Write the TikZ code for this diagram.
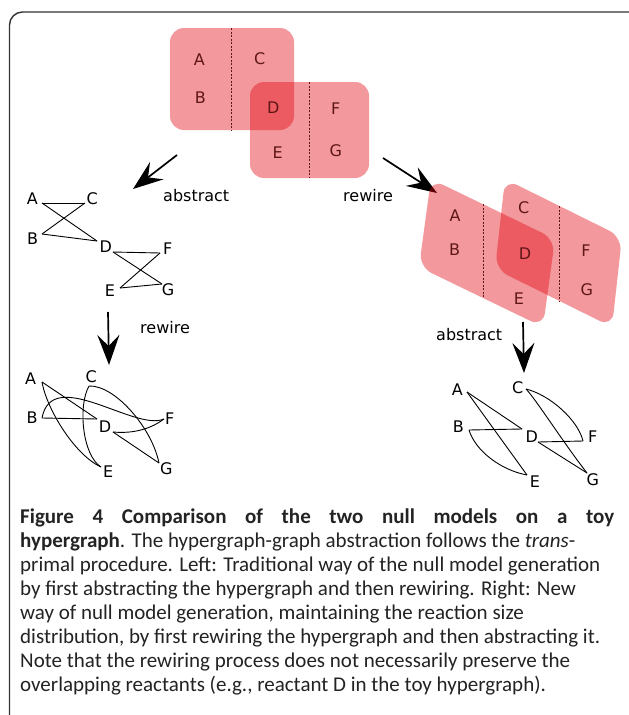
\documentclass[tikz,border=0pt]{standalone}
\usepackage{fontspec}
\setmainfont{DejaVu Sans}
\newfontfamily\capfont{Carlito}
\usetikzlibrary{arrows.meta}

\definecolor{hyper}{RGB}{226,0,10}
\definecolor{hyperink}{RGB}{95,22,22}
\definecolor{captext}{RGB}{35,35,35}

\begin{document}
\begin{tikzpicture}[x=1pt,y=-1pt,
  lbl/.style={font=\fontsize{16}{16}\selectfont, inner sep=0pt},
  hlbl/.style={lbl, text=hyperink},
  edge/.style={line width=0.9pt, black},
  hedge/.style={fill=hyper, fill opacity=0.4, draw=none, rounded corners=14pt},
  divider/.style={line width=0.8pt, hyperink, dash pattern=on 2pt off 1.5pt},
  bigarrow/.style={line width=1.7pt, -{Stealth[length=30pt,width=22pt,inset=11pt]}},
  steplabel/.style={font=\fontsize{16}{16}\selectfont, anchor=base west, inner sep=0pt},
  capline/.style={font=\capfont\fontsize{21}{24}\selectfont, text=captext, anchor=base west, inner sep=0pt}
]
\fill[white] (0,0) rectangle (629,715);
\useasboundingbox (0,0) rectangle (629,715);

% frame
\draw[line width=1.4pt, black!80, rounded corners=13pt] (9.5,720) -- (9.5,12) -- (629,12);

% ---------- hypergraph (top) ----------
\fill[hedge] (170,28) rectangle (294,130);
\fill[hedge] (250,82) rectangle (369,178);
\draw[divider] (231,28) -- (231,130);
\draw[divider] (309,82) -- (309,178);
\node[hlbl] (hA) at (199.3,59.3) {A};
\node[hlbl] (hB) at (200.3,97.7) {B};
\node[hlbl] (hC) at (259.7,58.7) {C};
\node[hlbl] (hD) at (273.3,107.3) {D};
\node[hlbl] (hE) at (277.7,152.3) {E};
\node[hlbl] (hF) at (335.7,108.7) {F};
\node[hlbl] (hG) at (335.7,151) {G};

% ---------- arrows and step labels ----------
\coordinate (ar1s) at (177,155);
\coordinate (ar1e) at (133,189);
\coordinate (ar2s) at (383,158);
\coordinate (ar2e) at (437,193);
\coordinate (ar3s) at (108,312);
\coordinate (ar3e) at (109,365);
\coordinate (ar4s) at (523,322);
\coordinate (ar4e) at (524,373);
\draw[bigarrow] (ar1s) -- (ar1e);
\draw[bigarrow] (ar2s) -- (ar2e);
\draw[bigarrow] (ar3s) -- (ar3e);
\draw[bigarrow] (ar4s) -- (ar4e);
\node[steplabel] (lab1) at (163,201) {abstract};
\node[steplabel] (lab2) at (343,201) {rewire};
\node[steplabel] (lab3) at (140,333) {rewire};
\node[steplabel] (lab4) at (436,340) {abstract};

% ---------- abstracted graph ----------
\node[lbl] (aA) at (32.3,198.3) {A};
\node[lbl] (aC) at (92.3,198.3) {C};
\node[lbl] (aB) at (32.7,238.3) {B};
\node[lbl] (aD) at (105.7,246.7) {D};
\node[lbl] (aF) at (167.7,248.3) {F};
\node[lbl] (aE) at (110,290.7) {E};
\node[lbl] (aG) at (168,290) {G};
\coordinate (pA) at (42,203);
\coordinate (pC) at (85,203);
\coordinate (pB) at (42,234);
\coordinate (pD) at (97,241);
\coordinate (pD2) at (113,252);
\coordinate (pF) at (160,253);
\coordinate (pE) at (120,288);
\coordinate (pG) at (162,284);
\draw[edge] (pA) -- (pC);
\draw[edge] (pA) -- (pD);
\draw[edge] (pC) -- (pB);
\draw[edge] (pB) -- (pD);
\draw[edge] (pD2) -- (pF);
\draw[edge] (pD2) -- (pG);
\draw[edge] (pF) -- (pE);
\draw[edge] (pE) -- (pG);

% ---------- abstracted then rewired ----------
\node[lbl] (bA) at (30.7,378.3) {A};
\node[lbl] (bC) at (91.3,376.7) {C};
\node[lbl] (bB) at (32,418) {B};
\node[lbl] (bD) at (105,426.3) {D};
\node[lbl] (bF) at (169.7,418.7) {F};
\node[lbl] (bE) at (108.3,471.3) {E};
\node[lbl] (bG) at (166.3,469) {G};
\coordinate (qA) at (42,382);
\coordinate (qC) at (89,386);
\coordinate (qB) at (42,418);
\coordinate (qD) at (97,419);
\coordinate (qD2) at (113,432);
\coordinate (qF) at (164,419);
\coordinate (qE) at (101,467);
\coordinate (qG) at (159,463);
\draw[edge] (qA) -- (qD);
\draw[edge] (qB) -- (qD);
\draw[edge] (qA) .. controls (47,410) and (75,455) .. (qE);
\draw[edge] (qB) .. controls (52,365) and (135,432) .. (qF);
\draw[edge] (qC) .. controls (78,405) and (82,455) .. (qE);
\draw[edge] (qC) .. controls (115,385) and (152,428) .. (qG);
\draw[edge] (qD2) .. controls (135,434) and (152,428) .. (qF);
\draw[edge] (qD2) -- (qG);

% ---------- rewired hypergraph ----------
\fill[hedge] (431,179) -- (555,239) -- (543,327) -- (419,267) -- cycle;
\fill[hedge] (505,179) -- (622,237) -- (612,327) -- (495,269) -- cycle;
\draw[divider] (483,204) -- (483,298);
\draw[divider] (559,206) -- (559,301);
\node[hlbl] (rA) at (455,215.3) {A};
\node[hlbl] (rB) at (454.7,250) {B};
\node[hlbl] (rC) at (523.7,207.3) {C};
\node[hlbl] (rD) at (525,253.3) {D};
\node[hlbl] (rE) at (519,298.7) {E};
\node[hlbl] (rF) at (586,250.7) {F};
\node[hlbl] (rG) at (586.7,289.7) {G};

% ---------- rewired then abstracted ----------
\node[lbl] (cA) at (457.3,389.3) {A};
\node[lbl] (cC) at (517.7,387.7) {C};
\node[lbl] (cB) at (458.3,426.7) {B};
\node[lbl] (cD) at (531.7,436.7) {D};
\node[lbl] (cF) at (592.7,436.7) {F};
\node[lbl] (cE) at (535,481.7) {E};
\node[lbl] (cG) at (592.7,479.3) {G};
\coordinate (sA) at (467,392);
\coordinate (sC) at (526,389);
\coordinate (sB) at (469,430);
\coordinate (sD) at (522,429);
\coordinate (sD2) at (538,442);
\coordinate (sF) at (583,441);
\coordinate (sE) at (527,475);
\coordinate (sG) at (587,473);
\draw[edge] (sA) -- (sD);
\draw[edge] (sA) -- (sE);
\draw[edge] (sB) -- (sD);
\draw[edge] (sB) .. controls (475,450) and (500,470) .. (sE);
\draw[edge] (sC) .. controls (550,395) and (578,420) .. (sF);
\draw[edge] (sC) .. controls (535,398) and (565,445) .. (sG);
\draw[edge] (sD2) -- (sF);
\draw[edge] (sD2) -- (sG);

% ---------- caption ----------
\node[capline] (cap1) at (20,523) {\makebox[594pt][s]{\bfseries Figure 4 Comparison of the two null models on a toy}};
\node[capline] (cap2) at (20,547) {\textbf{hypergraph}. The hypergraph-graph abstraction follows the \textit{trans}-};
\node[capline] (cap3) at (20,571) {primal procedure. Left: Traditional way of the null model generation};
\node[capline] (cap4) at (20,595) {by first abstracting the hypergraph and then rewiring. Right: New};
\node[capline] (cap5) at (20,619) {way of null model generation, maintaining the reaction size};
\node[capline] (cap6) at (20,643) {distribution, by first rewiring the hypergraph and then abstracting it.};
\node[capline] (cap7) at (20,667) {Note that the rewiring process does not necessarily preserve the};
\node[capline] (cap8) at (20,691) {overlapping reactants (e.g., reactant D in the toy hypergraph).};
\end{tikzpicture}
\end{document}
